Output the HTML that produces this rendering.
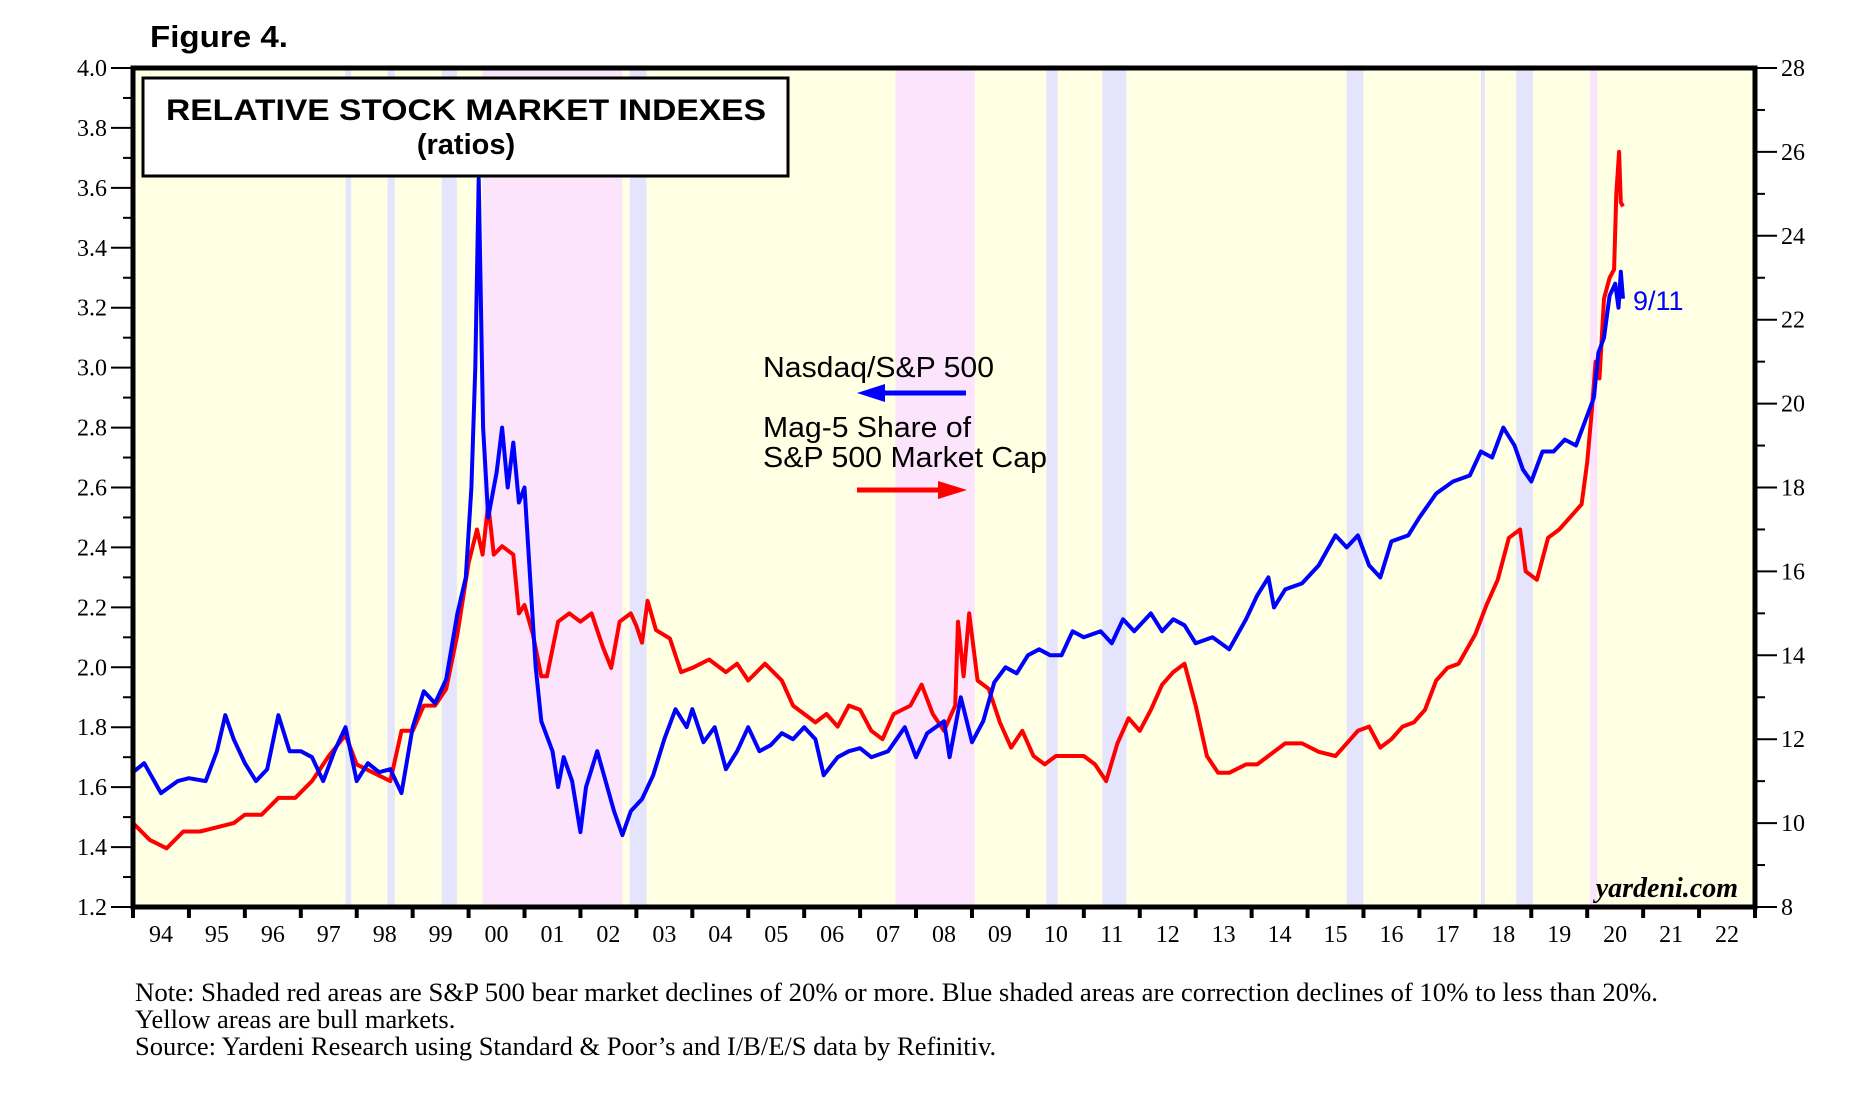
<!DOCTYPE html>
<html><head><meta charset="utf-8"><style>
html,body{margin:0;padding:0;background:#fff;}
svg{display:block;}
</style></head><body>
<svg id="chart" width="1869" height="1095" viewBox="0 0 1869 1095" xmlns="http://www.w3.org/2000/svg">
<g id="bands"></g>
<g id="lines"></g>
<g id="axes"></g>
<text x="150" y="47" font-family="Liberation Sans, sans-serif" font-weight="bold" font-size="31" textLength="138" lengthAdjust="spacingAndGlyphs">Figure 4.</text>
<rect x="143" y="78" width="645" height="98" fill="#fff" stroke="#000" stroke-width="3"/>
<text x="466" y="120" text-anchor="middle" font-family="Liberation Sans, sans-serif" font-weight="bold" font-size="30" textLength="600" lengthAdjust="spacingAndGlyphs">RELATIVE STOCK MARKET INDEXES</text>
<text x="466" y="154" text-anchor="middle" font-family="Liberation Sans, sans-serif" font-weight="bold" font-size="29">(ratios)</text>
<text x="763" y="377" font-family="Liberation Sans, sans-serif" font-size="29" textLength="231" lengthAdjust="spacingAndGlyphs">Nasdaq/S&amp;P 500</text>
<g><line x1="966" y1="393" x2="880" y2="393" stroke="#0000ff" stroke-width="5"/><polygon points="857,393 885,384 885,402" fill="#0000ff"/></g>
<text x="763" y="437" font-family="Liberation Sans, sans-serif" font-size="29" textLength="208" lengthAdjust="spacingAndGlyphs">Mag-5 Share of</text>
<text x="763" y="467" font-family="Liberation Sans, sans-serif" font-size="29" textLength="284" lengthAdjust="spacingAndGlyphs">S&amp;P 500 Market Cap</text>
<g><line x1="857" y1="490" x2="945" y2="490" stroke="#ff0000" stroke-width="5"/><polygon points="967,490 938,481 938,499" fill="#ff0000"/></g>
<text x="1633" y="310" font-family="Liberation Sans, sans-serif" font-size="27" fill="#0000ff">9/11</text>
<text x="1738" y="897" text-anchor="end" font-family="Liberation Serif, serif" font-style="italic" font-weight="bold" font-size="28">yardeni.com</text>
<g font-family="Liberation Serif, serif" font-size="26.5">
<text x="135" y="1001" textLength="1523" lengthAdjust="spacingAndGlyphs">Note: Shaded red areas are S&amp;P 500 bear market declines of 20% or more.  Blue shaded areas are correction declines of 10% to less than 20%.</text>
<text x="135" y="1028">Yellow areas are bull markets.</text>
<text x="135" y="1055">Source: Yardeni Research using Standard &amp; Poor’s and I/B/E/S data by Refinitiv.</text>
</g>
</svg>
<script>
const blueT=[1994.0,1994.2,1994.5,1994.8,1995.0,1995.3,1995.5,1995.65,1995.8,1996.0,1996.2,1996.4,1996.6,1996.8,1997.0,1997.2,1997.4,1997.6,1997.8,1998.0,1998.2,1998.4,1998.6,1998.8,1999.0,1999.2,1999.4,1999.6,1999.8,1999.95,2000.05,2000.12,2000.18,2000.26,2000.35,2000.5,2000.6,2000.7,2000.8,2000.9,2001.0,2001.1,2001.2,2001.3,2001.5,2001.6,2001.7,2001.85,2002.0,2002.1,2002.3,2002.45,2002.6,2002.75,2002.9,2003.1,2003.3,2003.5,2003.7,2003.9,2004.0,2004.2,2004.4,2004.6,2004.8,2005.0,2005.2,2005.4,2005.6,2005.8,2006.0,2006.2,2006.35,2006.6,2006.8,2007.0,2007.2,2007.5,2007.8,2008.0,2008.2,2008.5,2008.6,2008.8,2009.0,2009.2,2009.4,2009.6,2009.8,2010.0,2010.2,2010.4,2010.6,2010.8,2011.0,2011.3,2011.5,2011.7,2011.9,2012.2,2012.4,2012.6,2012.8,2013.0,2013.3,2013.6,2013.9,2014.1,2014.3,2014.4,2014.6,2014.9,2015.2,2015.5,2015.7,2015.9,2016.1,2016.3,2016.5,2016.8,2017.0,2017.3,2017.6,2017.9,2018.1,2018.3,2018.5,2018.7,2018.85,2019.0,2019.2,2019.4,2019.6,2019.8,2020.0,2020.12,2020.2,2020.3,2020.4,2020.5,2020.56,2020.6,2020.64];
const blueV=[1.65,1.68,1.58,1.62,1.63,1.62,1.72,1.84,1.76,1.68,1.62,1.66,1.84,1.72,1.72,1.70,1.62,1.72,1.80,1.62,1.68,1.65,1.66,1.58,1.80,1.92,1.88,1.96,2.18,2.30,2.60,3.00,3.63,2.80,2.50,2.65,2.80,2.60,2.75,2.55,2.60,2.30,2.00,1.82,1.72,1.60,1.70,1.62,1.45,1.60,1.72,1.62,1.52,1.44,1.52,1.56,1.64,1.76,1.86,1.80,1.86,1.75,1.80,1.66,1.72,1.80,1.72,1.74,1.78,1.76,1.80,1.76,1.64,1.70,1.72,1.73,1.70,1.72,1.80,1.70,1.78,1.82,1.70,1.90,1.75,1.82,1.95,2.00,1.98,2.04,2.06,2.04,2.04,2.12,2.10,2.12,2.08,2.16,2.12,2.18,2.12,2.16,2.14,2.08,2.10,2.06,2.16,2.24,2.30,2.20,2.26,2.28,2.34,2.44,2.40,2.44,2.34,2.30,2.42,2.44,2.50,2.58,2.62,2.64,2.72,2.70,2.80,2.74,2.66,2.62,2.72,2.72,2.76,2.74,2.84,2.90,3.05,3.10,3.24,3.28,3.20,3.32,3.23];
const redT=[1994.0,1994.3,1994.6,1994.9,1995.2,1995.5,1995.8,1996.0,1996.3,1996.6,1996.9,1997.2,1997.5,1997.8,1998.0,1998.3,1998.6,1998.8,1999.0,1999.2,1999.4,1999.6,1999.8,2000.0,2000.15,2000.25,2000.35,2000.45,2000.6,2000.8,2000.9,2001.0,2001.15,2001.3,2001.4,2001.6,2001.8,2002.0,2002.2,2002.4,2002.55,2002.7,2002.9,2003.0,2003.1,2003.2,2003.35,2003.6,2003.8,2004.0,2004.3,2004.6,2004.8,2005.0,2005.3,2005.6,2005.8,2006.0,2006.2,2006.4,2006.6,2006.8,2007.0,2007.2,2007.4,2007.6,2007.9,2008.1,2008.3,2008.5,2008.7,2008.75,2008.85,2008.95,2009.1,2009.3,2009.5,2009.7,2009.9,2010.1,2010.3,2010.5,2010.7,2011.0,2011.2,2011.4,2011.6,2011.8,2012.0,2012.2,2012.4,2012.6,2012.8,2013.0,2013.2,2013.4,2013.6,2013.9,2014.1,2014.3,2014.6,2014.9,2015.2,2015.5,2015.7,2015.9,2016.1,2016.3,2016.5,2016.7,2016.9,2017.1,2017.3,2017.5,2017.7,2018.0,2018.2,2018.4,2018.6,2018.8,2018.9,2019.1,2019.3,2019.5,2019.7,2019.9,2020.0,2020.08,2020.15,2020.22,2020.3,2020.4,2020.48,2020.52,2020.57,2020.6,2020.64];
const redV=[10.0,9.6,9.4,9.8,9.8,9.9,10.0,10.2,10.2,10.6,10.6,11.0,11.6,12.1,11.4,11.2,11.0,12.2,12.2,12.8,12.8,13.2,14.5,16.2,17.0,16.4,17.6,16.4,16.6,16.4,15.0,15.2,14.5,13.5,13.5,14.8,15.0,14.8,15.0,14.2,13.7,14.8,15.0,14.7,14.3,15.3,14.6,14.4,13.6,13.7,13.9,13.6,13.8,13.4,13.8,13.4,12.8,12.6,12.4,12.6,12.3,12.8,12.7,12.2,12.0,12.6,12.8,13.3,12.6,12.2,12.8,14.8,13.5,15.0,13.4,13.2,12.4,11.8,12.2,11.6,11.4,11.6,11.6,11.6,11.4,11.0,11.9,12.5,12.2,12.7,13.3,13.6,13.8,12.8,11.6,11.2,11.2,11.4,11.4,11.6,11.9,11.9,11.7,11.6,11.9,12.2,12.3,11.8,12.0,12.3,12.4,12.7,13.4,13.7,13.8,14.5,15.2,15.8,16.8,17.0,16.0,15.8,16.8,17.0,17.3,17.6,18.6,19.8,21.0,20.6,22.5,23.0,23.2,25.0,26.0,24.8,24.7];
const bandStart=[1997.8,1998.55,1999.52,2000.25,2002.88,2007.63,2010.33,2011.33,2015.7,2018.1,2018.73,2020.05];
const bandEnd=[1997.9,1998.68,1999.79,2002.75,2003.18,2009.05,2010.53,2011.76,2016.0,2018.17,2019.03,2020.18];
const bandType=['blue','blue','blue','pink','blue','pink','blue','blue','blue','blue','blue','pink'];
const yearLabels=['94','95','96','97','98','99','00','01','02','03','04','05','06','07','08','09','10','11','12','13','14','15','16','17','18','19','20','21','22'];
const leftTicks=[1.2,1.4,1.6,1.8,2.0,2.2,2.4,2.6,2.8,3.0,3.2,3.4,3.6,3.8,4.0];
const rightTicks=[8,10,12,14,16,18,20,22,24,26,28];

const NS='http://www.w3.org/2000/svg';
const X0=133,X1=1755,Y0=68,Y1=907;
function x(t){return X0+(t-1994)/29*(X1-X0);}
function yL(v){return Y0+(4.0-v)/2.8*(Y1-Y0);}
function yR(v){return Y0+(28-v)/20*(Y1-Y0);}
function mk(tag,attrs,parent){const e=document.createElementNS(NS,tag);for(const k in attrs)e.setAttribute(k,attrs[k]);parent.appendChild(e);return e;}
const bands=document.getElementById('bands'),lines=document.getElementById('lines'),axes=document.getElementById('axes');
let bg=mk('rect',{x:X0,y:Y0,width:X1-X0,height:Y1-Y0,fill:'#ffffe3'},bands);


for(let i=0;i<bandStart.length;i++){
  const r=mk('rect',{x:x(bandStart[i]),y:Y0,width:x(bandEnd[i])-x(bandStart[i]),height:Y1-Y0,fill:bandType[i]=='pink'?'#fce4fc':'#e4e4fc'},bands);
  
  
}
function path(T,V,fy,color,name){
  let d='';for(let i=0;i<T.length;i++)d+=(i?'L':'M')+x(T[i]).toFixed(1)+','+fy(V[i]).toFixed(1);
  const p=mk('path',{d:d,fill:'none',stroke:color,'stroke-width':4,'stroke-linejoin':'round'},lines);
  
  
}
path(redT,redV,yR,'#ff0000','mag5-share-line');
path(blueT,blueV,yL,'#0000ff','nasdaq-sp500-line');
const fr=mk('rect',{x:X0,y:Y0,width:X1-X0,height:Y1-Y0,fill:'none',stroke:'#000','stroke-width':5},axes);


for(let i=0;i<leftTicks.length;i++){
  const v=leftTicks[i],yy=yL(v);
  mk('line',{x1:X0-22,x2:X0,y1:yy,y2:yy,stroke:'#000','stroke-width':2},axes);
  if(i<leftTicks.length-1){const ym=yL(v+0.1);mk('line',{x1:X0-10,x2:X0,y1:ym,y2:ym,stroke:'#000','stroke-width':2},axes);}
  const t=mk('text',{x:X0-26,y:yy+8,'text-anchor':'end','font-family':'Liberation Serif, serif','font-size':24},axes);
  t.textContent=v.toFixed(1);
  
  
}
for(let i=0;i<rightTicks.length;i++){
  const v=rightTicks[i],yy=yR(v);
  mk('line',{x1:X1,x2:X1+22,y1:yy,y2:yy,stroke:'#000','stroke-width':2},axes);
  if(i<rightTicks.length-1){const ym=yR(v+1);mk('line',{x1:X1,x2:X1+10,y1:ym,y2:ym,stroke:'#000','stroke-width':2},axes);}
  const t=mk('text',{x:X1+26,y:yy+8,'font-family':'Liberation Serif, serif','font-size':24},axes);
  t.textContent=String(v);
  
  
}
for(let i=0;i<=yearLabels.length;i++){
  const xx=x(1994+i);
  mk('line',{x1:xx,x2:xx,y1:Y1,y2:Y1+11,stroke:'#000','stroke-width':4},axes);
  if(i<yearLabels.length){
    const t=mk('text',{x:x(1994.5+i),y:942,'text-anchor':'middle','font-family':'Liberation Serif, serif','font-size':24},axes);
    t.textContent=yearLabels[i];
    
    
  }
}
</script>
</body></html>
